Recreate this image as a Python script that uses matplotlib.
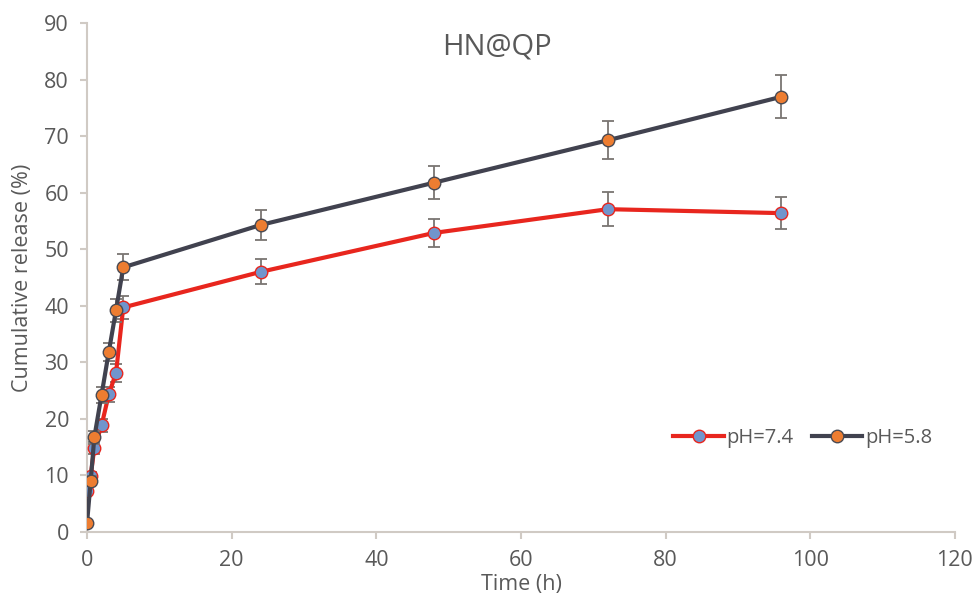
import matplotlib.pyplot as plt

plt.rcParams["font.family"] = ["Open Sans", "DejaVu Sans"]

time_h = [0, 0.5, 1, 2, 3, 4, 5, 24, 48, 72, 96]

release_74 = [7.2, 9.9, 14.8, 18.8, 24.3, 28.1, 39.7, 46.0, 52.9, 57.1, 56.4]
err_74 = [0.6, 0.7, 1.0, 1.1, 1.4, 1.6, 2.0, 2.2, 2.5, 3.0, 2.8]

release_58 = [1.6, 9.0, 16.7, 24.2, 31.8, 39.2, 46.8, 54.3, 61.8, 69.3, 77.0]
err_58 = [0.3, 0.8, 1.1, 1.4, 1.6, 2.0, 2.3, 2.7, 2.9, 3.4, 3.8]

text_color = "#595959"
axis_color = "#d0cac4"
err_color = "#7a7572"

fig = plt.figure(figsize=(9.74, 5.99), dpi=100)
ax = fig.add_axes([0.0894, 0.1124, 0.891, 0.8486])

ax.errorbar(time_h, release_74, yerr=err_74, fmt="none", ecolor=err_color,
            elinewidth=1.3, capsize=4.5, capthick=1.3, zorder=2)
ax.plot(time_h, release_74, color="#e8261e", linewidth=3, marker="o",
        markersize=9, markerfacecolor="#7195cc", markeredgecolor="#e8261e",
        markeredgewidth=1.0, label="pH=7.4", zorder=3)

ax.errorbar(time_h, release_58, yerr=err_58, fmt="none", ecolor=err_color,
            elinewidth=1.3, capsize=4.5, capthick=1.3, zorder=4)
ax.plot(time_h, release_58, color="#41424f", linewidth=3, marker="o",
        markersize=9, markerfacecolor="#ed7d31", markeredgecolor="#4a4a52",
        markeredgewidth=1.0, label="pH=5.8", zorder=5)

ax.set_xlim(0, 120)
ax.set_ylim(0, 90)
ax.set_xticks(range(0, 121, 20))
ax.set_yticks(range(0, 91, 10))

for side in ["top", "right"]:
    ax.spines[side].set_visible(False)
for side in ["left", "bottom"]:
    ax.spines[side].set_color(axis_color)
    ax.spines[side].set_linewidth(1.5)
ax.tick_params(colors=axis_color, labelcolor=text_color, labelsize=15.5,
               length=5, width=1.5, direction="out", pad=8)

ax.set_xlabel("Time (h)", fontsize=15.5, color=text_color, labelpad=2)
ax.set_ylabel("Cumulative release (%)", fontsize=15.5, color=text_color, labelpad=8)
ax.text(0.472, 0.953, "HN@QP", transform=ax.transAxes, ha="center", va="center",
        fontsize=21, color=text_color)

ax.legend(loc="center right", bbox_to_anchor=(0.995, 0.185), ncol=2, frameon=False,
          fontsize=14.5, labelcolor=text_color, handlelength=2.5, handletextpad=0.15,
          columnspacing=0.9)

fig.savefig("out.png", dpi=100)
